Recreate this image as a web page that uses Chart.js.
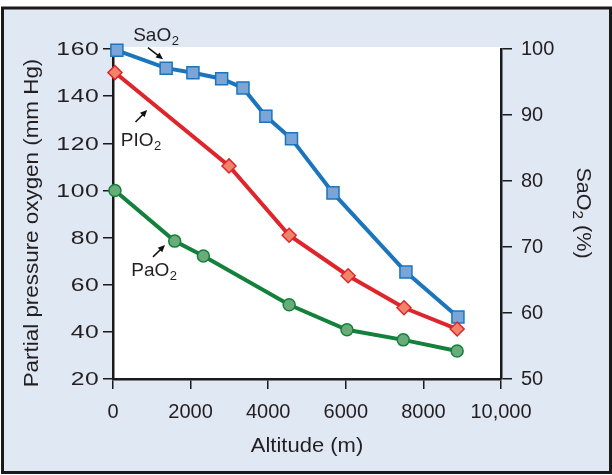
<!DOCTYPE html>
<html>
<head>
<meta charset="utf-8">
<script src="https://cdn.jsdelivr.net/npm/chart.js@4"></script>
<style>
    body { margin: 0; background: #ffffff; }
    canvas { display: block; }
</style>
</head>
<body>
<canvas id="altChart" width="612" height="475"></canvas>
<script>
// altitude (m) and readings
const altSa = [100, 1370, 2060, 2800, 3350, 3940, 4600, 5670, 7550, 8890];
const sao2 = [99.8, 97.1, 96.4, 95.5, 94.1, 89.8, 86.4, 78.2, 66.2, 59.4];

const altPi = [50, 2990, 4540, 6060, 7500, 8870];
const pio2 = [150, 110.4, 81, 63.8, 50.2, 41.2];

const altPa = [50, 1590, 2330, 4540, 6030, 7480, 8870];
const pao2 = [100, 78.5, 72.2, 51.5, 40.9, 36.6, 31.9];

const xTickLabels = ['0', '2000', '4000', '6000', '8000', '10,000'];

const ink = '#231f20';
const fontFamily = '"Liberation Sans", Arial, sans-serif';

const toXY = (xs, ys) => xs.map((x, i) => ({ x: x, y: ys[i] }));

// background, border and white plot area
const frame = {
    id: 'frame',
    beforeDraw(chart) {
        const { ctx, chartArea: a } = chart;
        ctx.save();
        ctx.fillStyle = '#ffffff';
        ctx.fillRect(0, 0, chart.width, chart.height);
        ctx.fillStyle = '#e0e8f4';
        ctx.fillRect(2.5, 8, 608, 464.5);
        ctx.strokeStyle = '#1a1a1a';
        ctx.lineWidth = 3;
        ctx.strokeRect(2.5, 8, 608, 464.5);
        ctx.fillStyle = '#ffffff';
        ctx.fillRect(a.left, a.top - 2, a.right - a.left, a.bottom - a.top + 2);
        ctx.restore();
    }
};

// draws text runs [text, size, dy] with a horizontal stretch, centred
function stretchText(ctx, runs, x, y, rot, sx) {
    ctx.save();
    ctx.translate(x, y);
    ctx.rotate(rot);
    ctx.scale(sx, 1);
    ctx.fillStyle = ink;
    ctx.textBaseline = 'alphabetic';
    ctx.textAlign = 'left';
    let total = 0;
    runs.forEach(r => { ctx.font = r[1] + 'px ' + fontFamily; total += ctx.measureText(r[0]).width; });
    let cx = -total / 2;
    runs.forEach(r => {
        ctx.font = r[1] + 'px ' + fontFamily;
        ctx.fillText(r[0], cx, r[2]);
        cx += ctx.measureText(r[0]).width;
    });
    ctx.restore();
}

// left tick labels (wide type in the original) and axis titles
const axisText = {
    id: 'axisText',
    afterDraw(chart) {
        const { ctx, scales, chartArea: a } = chart;
        const ys = scales.y;
        ys.ticks.forEach(t => {
            ctx.save();
            ctx.font = '19px ' + fontFamily;
            ctx.letterSpacing = '0.5px';
            ctx.fillStyle = ink;
            ctx.textBaseline = 'middle';
            ctx.textAlign = 'right';
            ctx.translate(a.left - 13.5, ys.getPixelForValue(t.value) + 1);
            ctx.scale(1.3, 1);
            ctx.fillText(String(t.value), 0, 0);
            ctx.restore();
        });
        stretchText(ctx, [['Partial pressure oxygen (mm Hg)', 20, 0]], 38, 223, -Math.PI / 2, 1.12);
        stretchText(ctx, [['Altitude (m)', 20, 0]], (a.left + a.right) / 2, 452, 0, 1.1);
        stretchText(ctx, [['SaO', 20, 0], ['2', 14, 4], [' (%)', 20, 0]], 577, 213, Math.PI / 2, 1.08);
    }
};

// series labels with subscript and small arrows (in data units of x / left y)
const notes = [
    { text: 'SaO', x: 520, y: 163.6, from: [900, 160.6], to: [1290, 155.6] },
    { text: 'PIO', x: 200, y: 118.8, from: [580, 129], to: [880, 134.1] },
    { text: 'PaO', x: 470, y: 63.6, from: [1030, 71.8], to: [1340, 76.8] }
];

const labels = {
    id: 'labels',
    afterDatasetsDraw(chart) {
        const { ctx, scales } = chart;
        const px = v => scales.x.getPixelForValue(v);
        const py = v => scales.y.getPixelForValue(v);
        ctx.save();
        notes.forEach(n => {
            ctx.fillStyle = ink;
            ctx.textBaseline = 'alphabetic';
            ctx.textAlign = 'left';
            ctx.font = '19px ' + fontFamily;
            const x0 = px(n.x), y0 = py(n.y);
            ctx.fillText(n.text, x0, y0);
            const w = ctx.measureText(n.text).width;
            ctx.font = '13px ' + fontFamily;
            ctx.fillText('2', x0 + w + 0.5, y0 + 4);

            const x1 = px(n.from[0]), y1 = py(n.from[1]);
            const x2 = px(n.to[0]), y2 = py(n.to[1]);
            const ang = Math.atan2(y2 - y1, x2 - x1);
            ctx.strokeStyle = '#111111';
            ctx.lineWidth = 1.5;
            ctx.beginPath();
            ctx.moveTo(x1, y1);
            ctx.lineTo(x2 - 4 * Math.cos(ang), y2 - 4 * Math.sin(ang));
            ctx.stroke();
            ctx.fillStyle = '#111111';
            ctx.beginPath();
            ctx.moveTo(x2, y2);
            ctx.lineTo(x2 - 7 * Math.cos(ang) + 3.2 * Math.sin(ang), y2 - 7 * Math.sin(ang) - 3.2 * Math.cos(ang));
            ctx.lineTo(x2 - 7 * Math.cos(ang) - 3.2 * Math.sin(ang), y2 - 7 * Math.sin(ang) + 3.2 * Math.cos(ang));
            ctx.closePath();
            ctx.fill();
        });
        ctx.restore();
    }
};

const ctx = document.getElementById('altChart').getContext('2d');

new Chart(ctx, {
    type: 'line',
    data: {
        datasets: [
            {
                label: 'PaO2',
                data: toXY(altPa, pao2),
                yAxisID: 'y',
                borderColor: '#13803c',
                backgroundColor: '#6aab7a',
                pointBackgroundColor: '#6aab7a',
                pointBorderColor: '#13803c',
                pointStyle: 'circle',
                pointRadius: 6,
                pointBorderWidth: 1.5,
                borderWidth: 4,
                clip: false
            },
            {
                label: 'PIO2',
                data: toXY(altPi, pio2),
                yAxisID: 'y',
                borderColor: '#e0242b',
                backgroundColor: '#f0846a',
                pointBackgroundColor: '#f0846a',
                pointBorderColor: '#e0242b',
                pointStyle: 'rectRot',
                pointRadius: 7,
                pointBorderWidth: 1.5,
                borderWidth: 4,
                clip: false
            },
            {
                label: 'SaO2',
                data: toXY(altSa, sao2),
                yAxisID: 'y1',
                borderColor: '#1b75bc',
                backgroundColor: '#7aa5d8',
                pointBackgroundColor: '#7aa5d8',
                pointBorderColor: '#1b75bc',
                pointStyle: 'rect',
                pointRadius: 8.5,
                pointBorderWidth: 1.5,
                borderWidth: 4,
                clip: false
            }
        ]
    },
    options: {
        responsive: false,
        animation: false,
        layout: { padding: { top: 49, left: 0, right: 0, bottom: 0 } },
        plugins: {
            legend: { display: false },
            tooltip: { enabled: false }
        },
        scales: {
            x: {
                type: 'linear',
                min: 0,
                max: 10000,
                afterFit: s => { s.height = 96; },
                border: { color: '#1a1a1a', width: 2.5 },
                grid: { drawOnChartArea: false, tickLength: 10, color: '#1a1a1a', lineWidth: 1.5 },
                ticks: {
                    stepSize: 2000,
                    maxRotation: 0,
                    autoSkip: false,
                    padding: 11,
                    color: ink,
                    font: { family: fontFamily, size: 20 },
                    callback: (val, i) => xTickLabels[i]
                }
            },
            y: {
                position: 'left',
                min: 20,
                max: 160,
                afterFit: s => { s.width = 113; },
                border: { color: '#1a1a1a', width: 2.5 },
                grid: { drawOnChartArea: false, tickLength: 10, color: '#1a1a1a', lineWidth: 1.5 },
                ticks: {
                    stepSize: 20,
                    display: false
                }
            },
            y1: {
                position: 'right',
                min: 50,
                max: 100,
                afterFit: s => { s.width = 111; },
                border: { color: '#1a1a1a', width: 2.5 },
                grid: { drawOnChartArea: false, tickLength: 11, color: '#1a1a1a', lineWidth: 1.5 },
                ticks: {
                    stepSize: 10,
                    padding: 9,
                    color: ink,
                    font: { family: fontFamily, size: 20 }
                }
            }
        }
    },
    plugins: [frame, labels, axisText]
});
</script>
</body>
</html>
